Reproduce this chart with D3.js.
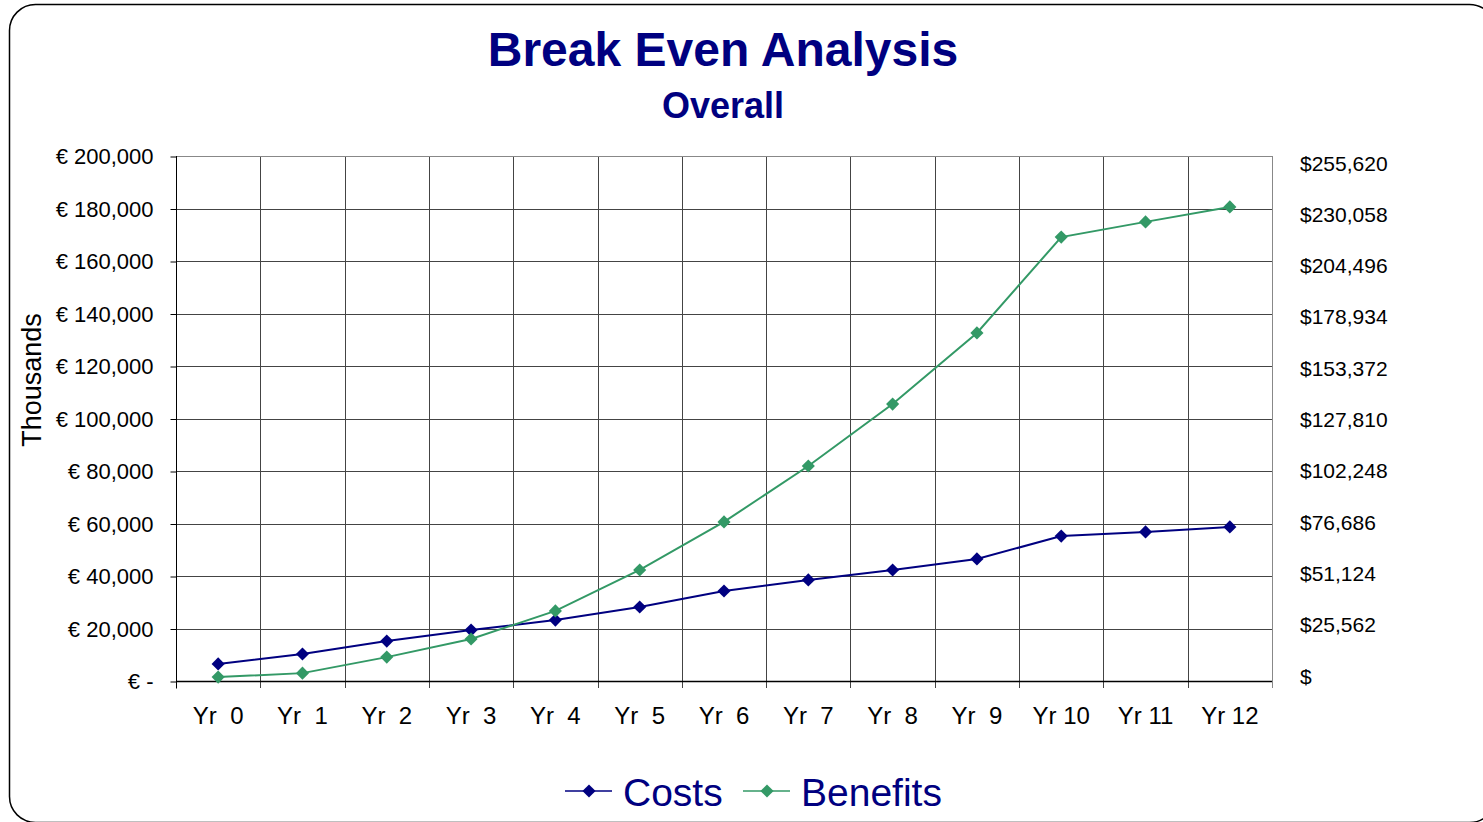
<!DOCTYPE html>
<html>
<head>
<title>Break Even Analysis</title>
<script src="https://cdn.jsdelivr.net/npm/d3@7"></script>
<style>
	body { margin: 0; background: #fff; }
	svg text { font-family: Arial, "Liberation Sans", sans-serif; }
</style>
</head>
<body>
<div id="chart"></div>
<script>
	// values (euros)
	var years = ['Yr  0', 'Yr  1', 'Yr  2', 'Yr  3', 'Yr  4', 'Yr  5', 'Yr  6',
		'Yr  7', 'Yr  8', 'Yr  9', 'Yr 10', 'Yr 11', 'Yr 12'];
	var costs = [6500, 10300, 15200, 19400, 23200, 28200, 34300, 38500, 42300, 46500, 55200, 56800, 58700];
	var benefits = [1500, 3000, 9100, 16000, 26700, 42300, 60600, 81900, 105500, 132600, 169100, 174900, 180600];
	var leftTicks = [0, 20000, 40000, 60000, 80000, 100000, 120000, 140000, 160000, 180000, 200000];
	var rightTicks = [0, 25562, 51124, 76686, 102248, 127810, 153372, 178934, 204496, 230058, 255620];

	var width = 1483,
		height = 822,
		plotL = 176, plotR = 1272, plotT = 156, plotB = 681;

	var svg = d3.select('#chart').append('svg')
		.attr('width', width)
		.attr('height', height);

	// outer rounded frame
	svg.append('rect')
		.attr('x', 9.5).attr('y', 4.5)
		.attr('width', 1486).attr('height', 818)
		.attr('rx', 26).attr('ry', 26)
		.attr('fill', '#fff')
		.attr('stroke', '#000')
		.attr('stroke-width', 1.5);

	var x = d3.scaleBand().domain(years).range([plotL, plotR]);
	var y = d3.scaleLinear().domain([0, 200000]).range([plotB, plotT]);
	var y2 = d3.scaleLinear().domain([0, 255620]).range([676, 163]);

	// grid
	svg.append('g').selectAll('line')
		.data(leftTicks)
		.enter().append('line')
		.attr('x1', plotL).attr('x2', plotR)
		.attr('y1', function(d) { return Math.round(y(d)) + 0.5; })
		.attr('y2', function(d) { return Math.round(y(d)) + 0.5; })
		.attr('stroke', '#444');

	var bounds = years.map(function(d) { return x(d); }).concat([plotR]);
	svg.append('g').selectAll('line')
		.data(bounds)
		.enter().append('line')
		.attr('x1', function(d) { return Math.round(d) + 0.5; })
		.attr('x2', function(d) { return Math.round(d) + 0.5; })
		.attr('y1', plotT).attr('y2', plotB + 7)
		.attr('stroke', function(d, i) { return i === bounds.length - 1 ? '#888' : '#444'; });

	svg.append('line')
		.attr('x1', plotL).attr('x2', plotR)
		.attr('y1', plotT + 0.5).attr('y2', plotT + 0.5)
		.attr('stroke', '#888');

	// left axis
	var yAxis = d3.axisLeft(y)
		.tickValues(leftTicks)
		.tickSize(6)
		.tickPadding(17)
		.tickFormat(function(d) { return d === 0 ? '€ -' : '€ ' + d3.format(',')(d); });

	var gy = svg.append('g')
		.attr('transform', 'translate(' + (plotL + 0.5) + ',0.5)')
		.call(yAxis);
	gy.select('.domain').attr('stroke', '#000').attr('d', 'M0,' + (plotT - 0.5) + 'V' + (plotB + 7));
	gy.selectAll('.tick line').attr('stroke', '#000');
	gy.selectAll('text').attr('font-size', 22).attr('fill', '#000')
		.attr('font-family', 'Arial, "Liberation Sans", sans-serif');

	// right axis, labels only
	svg.append('g').selectAll('text')
		.data(rightTicks)
		.enter().append('text')
		.attr('x', 1300)
		.attr('y', function(d) { return y2(d); })
		.attr('dy', '0.36em')
		.attr('font-size', 21)
		.text(function(d) { return d === 0 ? '$' : '$' + d3.format(',')(d); });

	// bottom axis line
	svg.append('line')
		.attr('x1', plotL).attr('x2', plotR)
		.attr('y1', plotB + 0.5).attr('y2', plotB + 0.5)
		.attr('stroke', '#000').attr('stroke-width', 1.5);

	svg.append('g').selectAll('text')
		.data(years)
		.enter().append('text')
		.attr('x', function(d) { return x(d) + x.bandwidth() / 2; })
		.attr('y', 724)
		.attr('text-anchor', 'middle')
		.attr('font-size', 24)
		.style('white-space', 'pre')
		.text(function(d) { return d; });

	svg.append('text')
		.attr('transform', 'translate(41,380) rotate(-90)')
		.attr('text-anchor', 'middle')
		.attr('font-size', 27)
		.text('Thousands');

	// titles
	svg.append('text')
		.attr('x', 723).attr('y', 66)
		.attr('text-anchor', 'middle')
		.attr('font-size', 48).attr('font-weight', 'bold')
		.attr('fill', '#000080')
		.text('Break Even Analysis');

	svg.append('text')
		.attr('x', 723).attr('y', 118)
		.attr('text-anchor', 'middle')
		.attr('font-size', 36).attr('font-weight', 'bold')
		.attr('fill', '#000080')
		.text('Overall');

	// series
	var series = [
		{ name: 'Costs', values: costs, color: '#000080' },
		{ name: 'Benefits', values: benefits, color: '#339966' }
	];

	var line = d3.line()
		.x(function(d, i) { return x(years[i]) + x.bandwidth() / 2; })
		.y(function(d) { return y(d); });

	var diamond = d3.symbol().type(d3.symbolDiamond2).size(110);

	series.forEach(function(s) {
		svg.append('path')
			.datum(s.values)
			.attr('d', line)
			.attr('fill', 'none')
			.attr('stroke', s.color)
			.attr('stroke-width', 2);

		svg.append('g').selectAll('path')
			.data(s.values)
			.enter().append('path')
			.attr('d', diamond)
			.attr('transform', function(d, i) {
				return 'translate(' + (x(years[i]) + x.bandwidth() / 2) + ',' + y(d) + ')';
			})
			.attr('fill', s.color);
	});

	// legend
	var legendX = [565, 743];
	var legend = svg.append('g').selectAll('g')
		.data(series)
		.enter().append('g')
		.attr('transform', function(d, i) { return 'translate(' + legendX[i] + ',791)'; });

	legend.append('line')
		.attr('x1', 0).attr('x2', 47)
		.attr('stroke', function(d) { return d.color; })
		.attr('stroke-width', 1.5);
	legend.append('path')
		.attr('d', diamond)
		.attr('transform', 'translate(24,0)')
		.attr('fill', function(d) { return d.color; });
	legend.append('text')
		.attr('x', 58).attr('y', 15)
		.attr('font-size', 39)
		.attr('fill', '#000080')
		.text(function(d) { return d.name; });
</script>
</body>
</html>
